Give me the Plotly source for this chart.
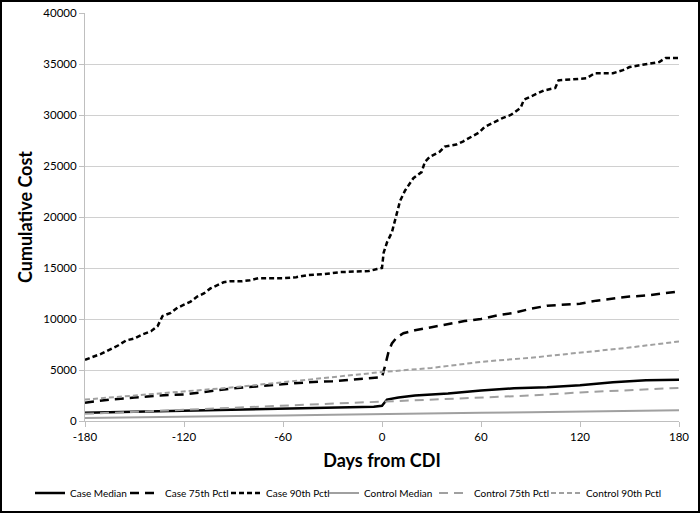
import plotly.graph_objects as go

# ---- data ----
case90_days = [-180, -175, -170, -165, -160, -155, -150, -145, -140, -136, -133, -128, -124, -120,
               -116, -112, -108, -104, -100, -96, -92, -85, -80, -75, -60, -52, -45, -35, -25, -15,
               -8, -3, 0, 1, 3, 6, 8, 11, 14, 17, 19, 24, 26, 29, 35, 38, 45, 49, 59, 62, 73, 78,
               84, 86, 90, 98, 105, 107, 124, 129, 140, 146, 150, 162, 168, 172, 180]
case90_vals = [6000, 6300, 6600, 7000, 7400, 7900, 8100, 8500, 8800, 9300, 10300, 10600, 11100, 11400,
               11700, 12200, 12500, 13000, 13300, 13600, 13700, 13700, 13800, 14000, 14000, 14100, 14300,
               14400, 14600, 14700, 14700, 14900, 15000, 16500, 17500, 18500, 19700, 21600, 22600, 23400,
               23800, 24400, 25400, 25900, 26400, 26900, 27100, 27400, 28300, 28800, 29700, 30000, 30700,
               31500, 31800, 32400, 32650, 33400, 33600, 34100, 34100, 34400, 34700, 35000, 35200, 35600,
               35600]

case75_days = [-180, -165, -150, -135, -120, -105, -90, -75, -60, -45, -30, -15, -5, 0, 2, 4, 6, 9, 13,
               20, 30, 40, 50, 60, 71, 80, 90, 100, 110, 120, 130, 140, 150, 160, 170, 180]
case75_vals = [1800, 2100, 2300, 2500, 2600, 2900, 3200, 3400, 3600, 3800, 3900, 4100, 4200, 4300, 5500,
               6800, 7600, 8200, 8600, 8900, 9200, 9500, 9800, 10000, 10400, 10600, 11000, 11300, 11400,
               11500, 11800, 12000, 12200, 12300, 12500, 12700]

casemed_days = [-180, -150, -120, -90, -60, -30, -5, 0, 3, 10, 20, 40, 60, 80, 100, 120, 140, 160, 180]
casemed_vals = [800, 900, 1000, 1100, 1200, 1300, 1400, 1500, 2100, 2300, 2500, 2700, 3000, 3200, 3300,
                3500, 3800, 4000, 4050]

ctrl_days = [-180, -150, -120, -90, -60, -30, 0, 30, 60, 90, 120, 150, 180]
ctrl90_vals = [2100, 2500, 2900, 3300, 3800, 4300, 4800, 5200, 5800, 6200, 6700, 7200, 7800]
ctrl75_vals = [700, 900, 1100, 1300, 1500, 1700, 1900, 2100, 2300, 2500, 2800, 3000, 3250]
ctrlmed_vals = [300, 380, 450, 500, 550, 620, 700, 750, 800, 850, 900, 980, 1050]

x_ticks = [-180, -120, -60, 0, 60, 120, 180]
y_ticks = [0, 5000, 10000, 15000, 20000, 25000, 30000, 35000, 40000]

BLACK = "#000000"
GRAY = "#a0a0a0"
FONT = "Lato"

W, H = 700, 513
L, R, T, B = 85, 21, 13, 92
pw, ph = W - L - R, H - T - B

series = [
    ("Case Median", casemed_days, casemed_vals, BLACK, "solid", 2.5),
    ("Case 75th Pctl", case75_days, case75_vals, BLACK, "9px,6px", 2.5),
    ("Case 90th Pctl", case90_days, case90_vals, BLACK, "5px,3px", 2.5),
    ("Control Median", ctrl_days, ctrlmed_vals, GRAY, "solid", 2),
    ("Control 75th Pctl", ctrl_days, ctrl75_vals, GRAY, "9px,6px", 2),
    ("Control 90th Pctl", ctrl_days, ctrl90_vals, GRAY, "5px,3px", 2),
]
# left edge (px) of each legend entry's label in the reference
legend_text_x = [69, 164, 265, 363, 473, 585]

fig = go.Figure()
legend_layout = {}
for i, (name, xs, ys, col, dash, w) in enumerate(series):
    key = "legend" if i == 0 else f"legend{i + 1}"
    fig.add_trace(go.Scatter(x=xs, y=ys, mode="lines", name=name, legend=key,
                             line=dict(color=col, dash=dash, width=w)))
    legend_layout[key] = dict(
        xref="container", yref="container",
        x=(legend_text_x[i] - 39) / W, xanchor="left",
        y=(H - 493) / H, yanchor="middle",
        orientation="h", bgcolor="rgba(0,0,0,0)", borderwidth=0,
        font=dict(size=10, family=FONT, color="#000000"), itemwidth=30,
    )

fig.update_layout(
    width=W, height=H,
    margin=dict(l=L, r=R, t=T, b=B, autoexpand=False),
    paper_bgcolor="white", plot_bgcolor="white",
    font=dict(family=FONT, size=11, color="#000000"),
    showlegend=True,
    xaxis=dict(range=[-180, 180], tickvals=x_ticks, ticktext=[str(v) for v in x_ticks],
               showgrid=False, zeroline=False, showline=True, linecolor="#bfbfbf", linewidth=1,
               ticks="outside", ticklen=5, tickcolor="#bfbfbf",
               tickfont=dict(size=11.5, family=FONT),
               title=dict(text="<b>Days from CDI</b>", font=dict(size=18, family=FONT), standoff=12)),
    yaxis=dict(range=[0, 40000], tickvals=y_ticks, ticktext=[str(v) for v in y_ticks],
               showgrid=True, gridcolor="#d0d0d0", gridwidth=1, zeroline=False,
               showline=True, linecolor="#bfbfbf", linewidth=1,
               ticks="outside", ticklen=5, tickcolor="#bfbfbf",
               tickfont=dict(size=11.5, family=FONT),
               title=dict(text="<b>Cumulative Cost</b>", font=dict(size=18, family=FONT), standoff=6)),
    shapes=[dict(type="rect", xref="paper", yref="paper",
                 x0=(1 - L) / pw, x1=(W - 1 - L) / pw,
                 y0=-(B - 1) / ph, y1=1 + (T - 1) / ph,
                 line=dict(color="#000000", width=2), fillcolor="rgba(0,0,0,0)", layer="above")],
    **legend_layout,
)

fig.write_html("out.html", config={"displayModeBar": False},
               post_script="document.body.style.margin='0';document.body.style.overflow='hidden';")
